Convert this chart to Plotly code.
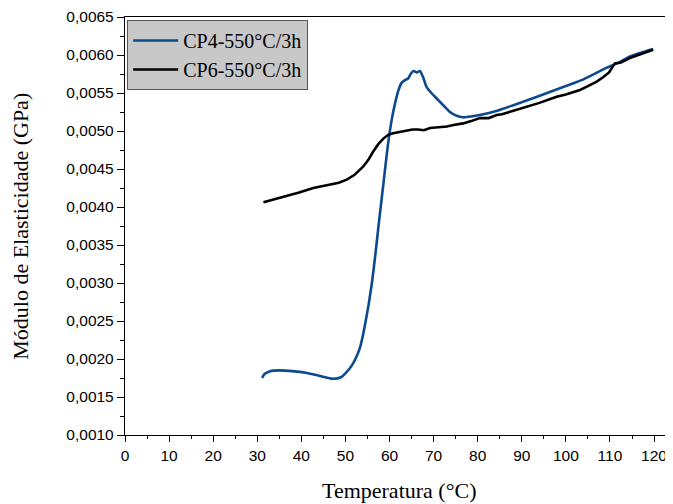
import plotly.graph_objects as go

# CP4-550°C/3h (azul)
temp_cp4 = [31.1, 31.6, 32.9, 35, 38, 41, 44, 47.2, 49, 50.3, 51.5, 52.5, 53.3, 54.0,
            54.6, 55.3, 56.0, 56.8, 57.6, 58.6, 59.6, 60.5, 61.2, 62.0, 62.7, 63.5,
            64.2, 64.8, 65.4, 66.2, 66.9, 67.6, 68.4, 69.5, 71.0, 72.5, 73.7, 75.2,
            76.7, 78.5, 80.5, 84, 88.1, 93, 99.4, 104, 109.2, 112, 114.5, 117, 119.8]
mod_cp4 = [0.00175, 0.00180, 0.00184, 0.00185, 0.00184, 0.00182, 0.00178, 0.00174,
           0.00176, 0.00183, 0.00192, 0.00203, 0.00215, 0.00232, 0.00250, 0.00273,
           0.00300, 0.00338, 0.00380, 0.00430, 0.00480, 0.00515, 0.00535, 0.00553,
           0.00563, 0.00567, 0.00569, 0.00575, 0.00579, 0.00577, 0.00579, 0.00571,
           0.00558, 0.00550, 0.00541, 0.00532, 0.00525, 0.00520, 0.00518, 0.00519,
           0.00521, 0.00526, 0.00534, 0.00544, 0.00558, 0.00568, 0.00583, 0.00590,
           0.00598, 0.00603, 0.00608]

# CP6-550°C/3h (preto)
temp_cp6 = [31.4, 34, 36.7, 39.5, 42.7, 45, 47.2, 48.5, 50.3, 52, 54.0, 55.2, 56.3,
            57.5, 58.6, 59.7, 60.8, 62.3, 63.9, 65.2, 66.5, 67.8, 69.2, 71.0, 73,
            74.5, 76.7, 78.5, 80.5, 82.5, 84.3, 85.5, 87.3, 89.5, 91.8, 94, 96, 97.9,
            100, 103.2, 105, 107, 108.5, 109.8, 111.1, 112.5, 114.5, 117, 119.8]
mod_cp6 = [0.004062, 0.00410, 0.00414, 0.00419, 0.00425, 0.00428, 0.00431, 0.00432,
           0.00436, 0.00442, 0.00453, 0.00462, 0.00473, 0.00483, 0.00490, 0.00495,
           0.00497, 0.00499, 0.00501, 0.00502, 0.00502, 0.00501, 0.00504, 0.00505,
           0.00506, 0.00508, 0.00510, 0.00513, 0.00517, 0.00517, 0.00521, 0.00522,
           0.00525, 0.00529, 0.00533, 0.00537, 0.00541, 0.00545, 0.00548, 0.00554,
           0.00559, 0.00565, 0.00571, 0.00577, 0.00589, 0.00590, 0.00596, 0.00601,
           0.00607]

fig = go.Figure()
fig.add_trace(go.Scatter(x=temp_cp4, y=mod_cp4, mode='lines', name='CP4-550°C/3h',
                         line=dict(color='#0b4a8f', width=2.6, shape='spline', smoothing=0.6)))
fig.add_trace(go.Scatter(x=temp_cp6, y=mod_cp6, mode='lines', name='CP6-550°C/3h',
                         line=dict(color='black', width=2.6)))

tick_font = dict(family='Liberation Sans, Arial', size=15.5, color='black')
serif = 'Liberation Serif, Times New Roman'

# a pagina tem margem de 8px no body, por isso a figura e menor
fig.update_layout(
    width=665, height=496,
    margin=dict(l=117, r=0, t=9, b=69),
    paper_bgcolor='white', plot_bgcolor='white',
    separators=',.',
    showlegend=True,
    legend=dict(x=0.004, y=0.993, xanchor='left', yanchor='top',
                bgcolor='#c8c8c8', bordercolor='#555555', borderwidth=1,
                font=dict(family=serif, size=20, color='black'),
                tracegroupgap=0, itemwidth=45),
    xaxis=dict(range=[0, 124.3], dtick=10, tick0=0, showgrid=False, zeroline=False,
               showline=True, linecolor='black', linewidth=1.3, mirror=True,
               ticks='outside', ticklen=6, tickcolor='black', tickwidth=1.2,
               minor=dict(dtick=5, ticks='outside', ticklen=3, tickcolor='black', showgrid=False),
               tickfont=tick_font),
    yaxis=dict(range=[0.0010, 0.0065], dtick=0.0005, tick0=0.0010, tickformat='.4f',
               showgrid=False, zeroline=False,
               showline=True, linecolor='black', linewidth=1.3,
               ticks='outside', ticklen=7, tickcolor='black', tickwidth=1.2,
               minor=dict(dtick=0.00025, ticks='outside', ticklen=4, tickcolor='black', showgrid=False),
               tickfont=tick_font),
)

fig.add_annotation(text='Temperatura (°C)', xref='paper', yref='paper', x=0.5, y=-0.132,
                   xanchor='center', yanchor='middle', showarrow=False,
                   font=dict(family=serif, size=22, color='black'))
fig.add_annotation(text='Módulo de Elasticidade (GPa)', xref='paper', yref='paper',
                   x=-0.192, y=0.5, textangle=-90, xanchor='center', yanchor='middle',
                   showarrow=False,
                   font=dict(family=serif, size=22, color='black'))

fig.write_html('out.html')
